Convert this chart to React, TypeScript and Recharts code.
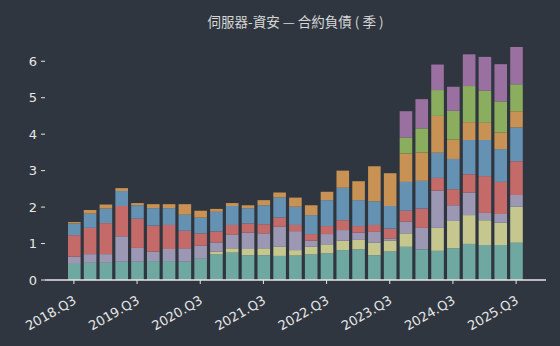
import { BarChart, Bar, XAxis, YAxis } from 'recharts'

const quarters = [
  '2018.Q3', '2018.Q4', '2019.Q1', '2019.Q2', '2019.Q3', '2019.Q4', '2020.Q1', '2020.Q2',
  '2020.Q3', '2020.Q4', '2021.Q1', '2021.Q2', '2021.Q3', '2021.Q4', '2022.Q1', '2022.Q2',
  '2022.Q3', '2022.Q4', '2023.Q1', '2023.Q2', '2023.Q3', '2023.Q4', '2024.Q1', '2024.Q2',
  '2024.Q3', '2024.Q4', '2025.Q1', '2025.Q2', '2025.Q3',
]

// stacked from the bottom up
const teal = [0.44, 0.47, 0.47, 0.5, 0.5, 0.52, 0.52, 0.5, 0.58, 0.7, 0.75, 0.68, 0.68, 0.66, 0.67, 0.7, 0.73, 0.82, 0.84, 0.68, 0.78, 0.91, 0.84, 0.8, 0.87, 0.99, 0.96, 0.96, 1.02]
const khaki = [0, 0, 0, 0, 0, 0, 0, 0, 0, 0.08, 0.12, 0.17, 0.19, 0.25, 0.15, 0.21, 0.25, 0.26, 0.26, 0.34, 0.3, 0.37, 0, 0.63, 0.75, 0.79, 0.68, 0.61, 0.99]
const lavender = [0.2, 0.24, 0.24, 0.7, 0.38, 0.26, 0.33, 0.37, 0.36, 0.25, 0.38, 0.45, 0.41, 0.55, 0.52, 0.17, 0.28, 0.29, 0.2, 0.3, 0.06, 0.32, 0.59, 1.02, 0.43, 0.62, 0.2, 0.24, 0.32]
const red = [0.59, 0.72, 0.85, 0.83, 0.8, 0.71, 0.66, 0.48, 0.34, 0.3, 0.26, 0.25, 0.25, 0.25, 0.17, 0.18, 0.22, 0.27, 0.18, 0.19, 0.27, 0.3, 0.53, 0.35, 0.44, 0.5, 1.01, 0.88, 0.93]
const blue = [0.32, 0.39, 0.4, 0.41, 0.37, 0.48, 0.46, 0.44, 0.43, 0.54, 0.52, 0.42, 0.52, 0.55, 0.5, 0.52, 0.71, 0.89, 0.71, 0.65, 0.62, 0.79, 0.76, 0.69, 0.83, 0.94, 0.99, 0.9, 0.92]
const orange = [0.04, 0.1, 0.11, 0.08, 0.06, 0.11, 0.11, 0.29, 0.19, 0.08, 0.08, 0.08, 0.14, 0.14, 0.25, 0.27, 0.23, 0.47, 0.52, 0.96, 0.9, 0.78, 0.78, 1.01, 0.53, 0.49, 0.47, 0.46, 0.45]
const green = [0, 0, 0, 0, 0, 0, 0, 0, 0, 0, 0, 0, 0, 0, 0, 0, 0, 0, 0, 0, 0, 0.44, 0.66, 0.71, 0.79, 0.99, 0.88, 0.85, 0.74]
const purple = [0, 0, 0, 0, 0, 0, 0, 0, 0, 0, 0, 0, 0, 0, 0, 0, 0, 0, 0, 0, 0, 0.72, 0.8, 0.7, 0.66, 0.87, 0.93, 1.02, 1.02]

const yTicks = [0, 1, 2, 3, 4, 5, 6]

const series = [
  { key: 'teal', color: '#6fa8a0' },
  { key: 'khaki', color: '#c6c78e' },
  { key: 'lavender', color: '#9c98b4' },
  { key: 'red', color: '#c46b6a' },
  { key: 'blue', color: '#6592b3' },
  { key: 'orange', color: '#c79253' },
  { key: 'green', color: '#8bad5e' },
  { key: 'purple', color: '#9a70a1' },
]

const data = quarters.map((q, i) => ({
  q,
  teal: teal[i],
  khaki: khaki[i],
  lavender: lavender[i],
  red: red[i],
  blue: blue[i],
  orange: orange[i],
  green: green[i],
  purple: purple[i],
}))

const axisColor = '#e6e6e6'

function XTick({ x, y, payload }: { x?: number; y?: number; payload?: { value: string } }) {
  const ax = (x ?? 0) + 1
  const ay = (y ?? 0) + 13
  return (
    <text
      x={ax}
      y={ay}
      dy="0.35em"
      transform={`rotate(-30 ${ax} ${ay})`}
      textAnchor="end"
      fill={axisColor}
      fontSize={13}
      fontFamily="DejaVu Sans"
    >
      {payload?.value}
    </text>
  )
}

export default function App() {
  return (
    <div style={{ position: 'absolute', left: 0, top: 0, width: 560, height: 346, background: '#2f3640' }}>
      <div
        style={{
          position: 'absolute',
          left: 45,
          width: 501,
          top: 11,
          textAlign: 'center',
          color: '#d6d6d6',
          fontSize: 13.5,
          fontFamily: '"Noto Sans CJK TC", "DejaVu Sans", sans-serif',
        }}
      >
        伺服器-資安 — 合約負債 ( 季 )
      </div>
      <BarChart width={560} height={346} data={data} margin={{ top: 35, right: 14, left: 0, bottom: 0 }}>
        <XAxis
          dataKey="q"
          interval={3}
          height={66}
          padding={{ left: 21, right: 22 }}
          axisLine={{ stroke: axisColor, strokeWidth: 1.5 }}
          tickLine={{ stroke: axisColor }}
          tickSize={4}
          tick={<XTick />}
        />
        <YAxis
          width={45}
          domain={[0, 6.72]}
          ticks={yTicks}
          axisLine={false}
          tickLine={{ stroke: axisColor }}
          tickSize={4}
          tickMargin={4}
          tick={{ fill: axisColor, fontSize: 13, fontFamily: 'DejaVu Sans' }}
        />
        {series.map(s => (
          <Bar key={s.key} dataKey={s.key} stackId="a" fill={s.color} barSize={12.6} isAnimationActive={false} />
        ))}
      </BarChart>
    </div>
  )
}
